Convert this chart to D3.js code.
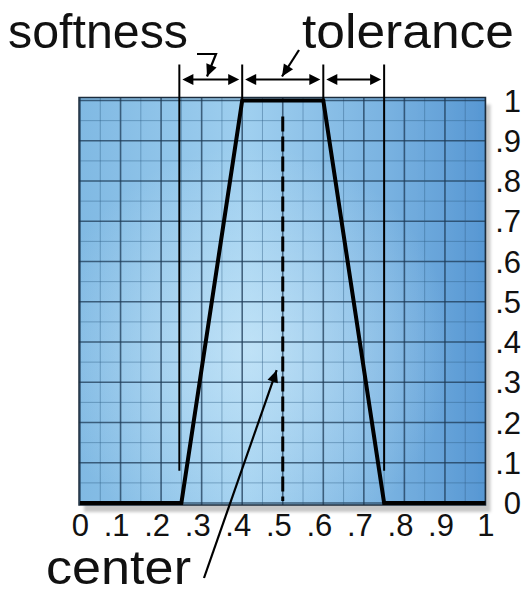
<!DOCTYPE html>
<html>
<head>
<meta charset="utf-8">
<script src="https://cdn.jsdelivr.net/npm/d3@7"></script>
<style>
  html, body { margin: 0; padding: 0; background: #ffffff; }
  svg { display: block; }
  text { font-family: "Liberation Sans", Arial, Helvetica, sans-serif; fill: #111; }
</style>
</head>
<body>
<svg id="chart" width="526" height="594"></svg>
<script>
// Membership function: 0 outside, ramps over the softness band, 1 inside the tolerance band
const curveX = [0, 0.25, 0.4, 0.6, 0.75, 1];
const curveY = [0, 0, 1, 1, 0, 0];
const centerValue = 0.5;

// Band boundaries: softness | tolerance | softness
const bandEdges = [0.245, 0.4, 0.6, 0.75];

// Axis ticks
const xTickValues = [0, 0.1, 0.2, 0.3, 0.4, 0.5, 0.6, 0.7, 0.8, 0.9, 1];
const xTickLabels = ["0", ".1", ".2", ".3", ".4", ".5", ".6", ".7", ".8", ".9", "1"];
const yTickValues = [0, 0.1, 0.2, 0.3, 0.4, 0.5, 0.6, 0.7, 0.8, 0.9, 1];
const yTickLabels = ["0", ".1", ".2", ".3", ".4", ".5", ".6", ".7", ".8", ".9", "1"];

// Annotation words
const annotationWords = ["softness", "tolerance", "center"];

(function draw() {
  const svg = d3.select("#chart");
  const x = d3.scaleLinear().domain([0, 1]).range([80, 485.5]);
  const y = d3.scaleLinear().domain([0, 1]).range([503, 100.5]);

  const defs = svg.append("defs");
  // Base: medium blue on the left, lighter left of centre, deep blue on the right
  const lin = defs.append("linearGradient").attr("id", "plotBase")
    .attr("x1", 0).attr("y1", 0).attr("x2", 1).attr("y2", 0);
  lin.append("stop").attr("offset", 0).attr("stop-color", "#80b9e3");
  lin.append("stop").attr("offset", 0.42).attr("stop-color", "#9fcfef");
  lin.append("stop").attr("offset", 0.75).attr("stop-color", "#7ab3e1");
  lin.append("stop").attr("offset", 1).attr("stop-color", "#5797d3");
  // Soft highlight
  const glow = defs.append("radialGradient").attr("id", "plotGlow")
    .attr("cx", 0.42).attr("cy", 0.62).attr("r", 0.5);
  glow.append("stop").attr("offset", 0).attr("stop-color", "#d4eefc").attr("stop-opacity", 0.6);
  glow.append("stop").attr("offset", 1).attr("stop-color", "#d4eefc").attr("stop-opacity", 0);

  const shadow = defs.append("filter").attr("id", "shadow")
    .attr("x", -0.05).attr("y", -0.05).attr("width", 1.15).attr("height", 1.15);
  shadow.append("feDropShadow")
    .attr("dx", 5).attr("dy", 7).attr("stdDeviation", 1.5)
    .attr("flood-color", "#000").attr("flood-opacity", 0.22);

  const pL = x(0) - 1, pR = x(1), pT = y(1) - 3, pB = y(0) + 2;

  defs.append("clipPath").attr("id", "plotClip")
    .append("rect").attr("x", pL).attr("y", pT)
    .attr("width", pR - pL).attr("height", pB - pT);

  // Background panel
  svg.append("rect")
    .attr("x", pL).attr("y", pT)
    .attr("width", pR - pL).attr("height", pB - pT)
    .attr("fill", "url(#plotBase)")
    .attr("filter", "url(#shadow)");
  svg.append("rect")
    .attr("x", pL).attr("y", pT)
    .attr("width", pR - pL).attr("height", pB - pT)
    .attr("fill", "url(#plotGlow)");

  // Grid: minor every 0.05, major every 0.1
  const gridSteps = d3.range(0, 21).map(i => i / 20);
  const grid = svg.append("g").attr("clip-path", "url(#plotClip)");
  gridSteps.forEach((v, i) => {
    const major = i % 2 === 0;
    const style = sel => sel
      .attr("stroke", major ? "#1d3b57" : "#2c5a80")
      .attr("stroke-opacity", major ? 0.75 : 0.42)
      .attr("stroke-width", major ? 1.6 : 1);
    grid.append("line").attr("x1", x(v)).attr("x2", x(v))
      .attr("y1", pT).attr("y2", pB).call(style);
    grid.append("line").attr("y1", y(v)).attr("y2", y(v))
      .attr("x1", pL).attr("x2", pR).call(style);
  });

  // Panel border
  svg.append("rect")
    .attr("x", pL).attr("y", pT)
    .attr("width", pR - pL).attr("height", pB - pT)
    .attr("fill", "none").attr("stroke", "#1c2c3c").attr("stroke-width", 1.5);

  // Center marker (dashed)
  svg.append("line")
    .attr("x1", x(centerValue)).attr("x2", x(centerValue))
    .attr("y1", y(0.96)).attr("y2", y(0.005))
    .attr("stroke", "#000").attr("stroke-width", 3)
    .attr("stroke-dasharray", "15,5");

  // Membership curve
  const pts = curveX.map((v, i) => [v, curveY[i]]);
  svg.append("path")
    .datum(pts)
    .attr("d", d3.line().x(d => x(d[0])).y(d => y(d[1])))
    .attr("fill", "none").attr("stroke", "#000")
    .attr("stroke-width", 4).attr("stroke-linejoin", "miter");

  // Band boundary lines
  const arrowRowY = y(1) - 21;
  bandEdges.forEach((v, i) => {
    const outer = i === 0 || i === bandEdges.length - 1;
    svg.append("line")
      .attr("x1", x(v)).attr("x2", x(v))
      .attr("y1", arrowRowY - 15)
      .attr("y2", outer ? y(0.08) : y(1))
      .attr("stroke", "#000").attr("stroke-width", 2);
  });

  function arrowHead(g, tx, ty, ang, len = 11, half = 5.5) {
    const c = Math.cos(ang), s = Math.sin(ang);
    const bx = tx - len * c, by = ty - len * s;
    g.append("path")
      .attr("d", `M${tx},${ty}L${bx - half * s},${by + half * c}L${bx + half * s},${by - half * c}Z`)
      .attr("fill", "#000");
  }

  // Double-headed span arrows
  const arrows = svg.append("g");
  for (let i = 0; i < bandEdges.length - 1; i++) {
    const a = x(bandEdges[i]) + 3, b = x(bandEdges[i + 1]) - 3;
    arrows.append("line").attr("x1", a + 6).attr("x2", b - 6)
      .attr("y1", arrowRowY).attr("y2", arrowRowY)
      .attr("stroke", "#000").attr("stroke-width", 2);
    arrowHead(arrows, a, arrowRowY, Math.PI);
    arrowHead(arrows, b, arrowRowY, 0);
  }

  // Leader lines from the words
  function leader(points) {
    svg.append("polyline")
      .attr("points", points.map(p => p.join(",")).join(" "))
      .attr("fill", "none").attr("stroke", "#000").attr("stroke-width", 2.2);
    const [p0, p1] = points.slice(-2);
    const ang = Math.atan2(p1[1] - p0[1], p1[0] - p0[0]);
    arrowHead(svg, p1[0], p1[1], ang, 12, 5.5);
  }
  leader([[197, 54], [216, 54], [207, arrowRowY - 3]]);
  leader([[299, 50], [282, arrowRowY - 3]]);
  leader([[204, 578], [x(0.485), y(0.33)]]);

  // Annotation words
  svg.append("text").text(annotationWords[0])
    .attr("x", 8).attr("y", 48).attr("font-size", 48)
    .attr("textLength", 180).attr("lengthAdjust", "spacingAndGlyphs");
  svg.append("text").text(annotationWords[1])
    .attr("x", 302).attr("y", 48).attr("font-size", 48)
    .attr("textLength", 212).attr("lengthAdjust", "spacingAndGlyphs");
  svg.append("text").text(annotationWords[2])
    .attr("x", 46).attr("y", 584).attr("font-size", 48)
    .attr("textLength", 145).attr("lengthAdjust", "spacingAndGlyphs");

  // X tick labels (digit centred on tick)
  svg.append("g").selectAll("text")
    .data(xTickValues)
    .join("text")
    .attr("x", d => x(d) + 9)
    .attr("y", 536)
    .attr("text-anchor", "end")
    .attr("font-size", 31)
    .text((d, i) => xTickLabels[i]);

  // Y tick labels on the right
  svg.append("g").selectAll("text")
    .data(yTickValues)
    .join("text")
    .attr("x", 521)
    .attr("y", d => y(d) + 11)
    .attr("text-anchor", "end")
    .attr("font-size", 31)
    .text((d, i) => yTickLabels[i]);
})();
</script>
</body>
</html>
